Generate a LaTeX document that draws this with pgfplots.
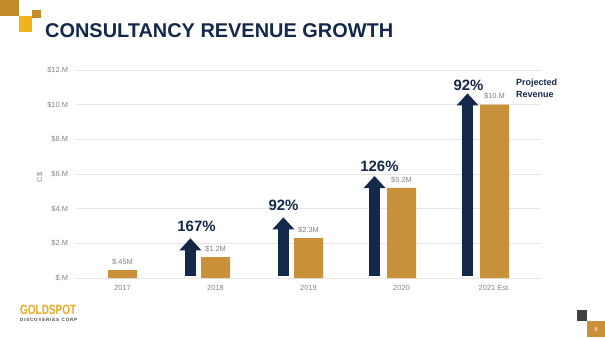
\documentclass[border=0pt]{standalone}
\usepackage{pgfplots}
\pgfplotsset{compat=1.18}
\usetikzlibrary{arrows.meta}
\usepackage{fontspec}
\setmainfont{Liberation Sans}
\definecolor{navy}{HTML}{14284B}
\definecolor{bargold}{HTML}{C9923A}
\definecolor{dkgold}{HTML}{C48B29}
\definecolor{ylw}{HTML}{F2B21C}
\definecolor{tickgray}{HTML}{858585}
\definecolor{gridgray}{HTML}{E6E6E6}
\definecolor{logogold}{HTML}{E8A91E}
\begin{document}
\begin{tikzpicture}[x=1bp,y=1bp]
\path[use as bounding box, fill=white] (0,0) rectangle (605,337);
% decorations
\fill[dkgold] (0,321) rectangle (19,337);
\fill[ylw] (19,305) rectangle (32,321);
\fill[dkgold] (32,319) rectangle (41,327);
\fill[black!75] (577,16) rectangle (587,27);
\fill[bargold] (587,0) rectangle (605,16);
\node[text=white, font=\fontsize{6}{7}\selectfont] at (596,8) {6};
\node[anchor=base west, inner sep=0pt, text=navy, font=\fontsize{20}{24}\bfseries] at (45,300) {CONSULTANCY REVENUE GROWTH};
\node[anchor=base west, inner sep=0pt, text=logogold, font=\fontsize{10}{12}\bfseries] at (20,23) {\scalebox{1}[1.35]{GOLDSPOT}};
\node[anchor=base west, inner sep=0pt, text=black!70, font=\fontsize{3}{4}\bfseries] at (20,15.5) {\resizebox{57bp}{!}{D\,I\,S\,C\,O\,V\,E\,R\,I\,E\,S\ \ C\,O\,R\,P}};
\node[anchor=west, inner sep=0pt, text=navy, font=\fontsize{9}{11.6}\bfseries, align=left] at (516,248.5) {Projected\\Revenue};
\begin{axis}[
  at={(76bp,59bp)}, anchor=south west,
  scale only axis, width=465bp, height=208bp,
  xmin=-0.5, xmax=4.5, ymin=0, ymax=12,
  axis line style={draw=none},
  ymajorgrids, grid style={gridgray, line width=0.8bp},
  ytick={0,2,4,6,8,10,12},
  yticklabels={\$.M,\$2.M,\$4.M,\$6.M,\$8.M,\$10.M,\$12.M},
  xtick={0,1,2,3,4},
  xticklabels={2017,2018,2019,2020,2021 Est.},
  major tick length=0pt,
  tick style={draw=none},
  tick label style={font=\fontsize{7.5}{9}\selectfont, text=tickgray},
  yticklabel style={inner sep=0pt, xshift=-7.7bp},
  xticklabel style={inner sep=0pt, yshift=-7bp},
  ylabel={C\$},
  every axis y label/.style={at={(axis description cs:0,0.483)}, rotate=90, anchor=center, yshift=36.5bp, font=\fontsize{7.5}{9}\selectfont, text=tickgray},
  clip=false,
]
% revenue bars
\addplot[ybar, bar width=29bp, bar shift=0pt, fill=bargold, draw=none,
  point meta=explicit symbolic, nodes near coords,
  every node near coord/.append style={font=\fontsize{7.5}{9}\selectfont, text=tickgray, inner sep=0pt, yshift=5bp}]
  coordinates {(0,0.45) [\$.45M] (1,1.2) [\$1.2M] (2,2.3) [\$2.3M] (3,5.2) [\$5.2M] (4,10.0) [\$10.M]};
% growth arrows
\addplot[navy, line width=11bp, -{Triangle[width=22bp, length=12bp, line width=0pt]},
  quiver={u=0, v=\thisrow{v}}, mark=none]
  table {
x y v
0.73 0.12 2.17
1.73 0.12 3.38
2.71 0.12 5.76
3.71 0.12 10.53
};
% growth labels
\addplot[draw=none, mark=none, point meta=explicit symbolic, nodes near coords,
  every node near coord/.append style={anchor=center, inner sep=0pt, font=\fontsize{15}{17}\bfseries, text=navy}]
  table[meta=lab] {
x y lab
0.796 2.96 167\%
1.731 4.21 92\%
2.763 6.42 126\%
3.72 11.1 92\%
};
\end{axis}
\end{tikzpicture}
\end{document}
